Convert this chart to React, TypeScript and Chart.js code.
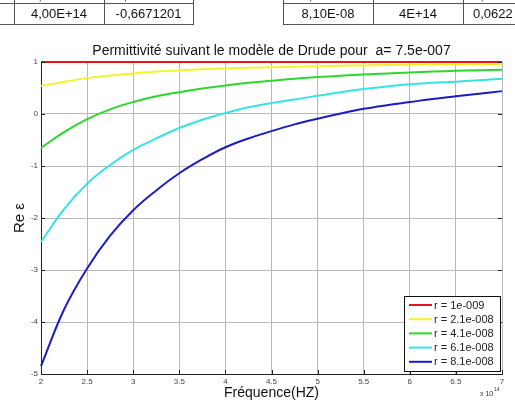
import React, { useEffect, useRef } from "react";
import { Chart, registerables } from "chart.js";

Chart.register(...registerables);

// ---------- data ----------
const frequencies = [2, 2.25, 2.5, 2.75, 3, 3.25, 3.5, 3.75, 4, 4.25, 4.5, 4.75, 5, 5.25, 5.5, 5.75, 6, 6.25, 6.5, 6.75, 7];

const r1e9 = [1, 1, 1, 1, 1, 1, 1, 1, 1, 1, 1, 1, 1, 1, 1, 1, 1, 1, 1, 1, 1];
const r21e9 = [0.54, 0.62, 0.69, 0.74, 0.78, 0.815, 0.84, 0.86, 0.875, 0.89, 0.9, 0.91, 0.92, 0.928, 0.935, 0.94, 0.945, 0.95, 0.953, 0.956, 0.96];
const r41e9 = [-0.65, -0.35, -0.1, 0.09, 0.23, 0.34, 0.42, 0.49, 0.55, 0.6, 0.64, 0.68, 0.71, 0.735, 0.76, 0.78, 0.8, 0.815, 0.83, 0.84, 0.85];
const r61e9 = [-2.46, -1.83, -1.34, -0.98, -0.69, -0.47, -0.27, -0.11, 0.02, 0.13, 0.21, 0.28, 0.35, 0.42, 0.48, 0.53, 0.57, 0.6, 0.62, 0.65, 0.68];
const r81e9 = [-4.85, -3.76, -2.97, -2.34, -1.85, -1.47, -1.14, -0.87, -0.64, -0.47, -0.33, -0.2, -0.09, 0.01, 0.1, 0.17, 0.23, 0.29, 0.34, 0.39, 0.44];

const seriesLabels = ["r = 1e-009", "r = 2.1e-008", "r = 4.1e-008", "r = 6.1e-008", "r = 8.1e-008"];
const seriesColors = ["#e8141c", "#f4f42a", "#2cd82c", "#36e4e4", "#1c1cc4"];
const seriesValues = [r1e9, r21e9, r41e9, r61e9, r81e9];

const xTicks = [2, 2.5, 3, 3.5, 4, 4.5, 5, 5.5, 6, 6.5, 7];
const yTicks = [-5, -4, -3, -2, -1, 0, 1];

const titleText = "Permittivité suivant le modèle de Drude pour  a= 7.5e-007";
const xTitle = "Fréquence(HZ)";
const yTitle = "Re ε";

// table fragment above the chart
const tableLeftTop = ["4,00E+14", "-0,08921749"];
const tableLeftBottom = ["4,00E+14", "-0,6671201"];
const tableRightTop = ["6,10E-08", "4E+14", "0,4559"];
const tableRightBottom = ["8,10E-08", "4E+14", "0,0622"];

const FONT = '"Liberation Sans", Arial, Helvetica, sans-serif';

const overlayPlugin = {
  id: "overlay",
  afterDraw(chart: any) {
    const ctx = chart.ctx;
    const { left, right, top, bottom } = chart.chartArea;
    ctx.save();
    ctx.fillStyle = "#111";
    // title
    ctx.font = `14px ${FONT}`;
    ctx.textAlign = "center";
    ctx.textBaseline = "middle";
    ctx.fillText(titleText, (left + right) / 2, 51);
    // x title
    ctx.font = `14px ${FONT}`;
    ctx.fillText(xTitle, (left + right) / 2, 393);
    // y title
    ctx.save();
    ctx.translate(20, (top + bottom) / 2);
    ctx.rotate(-Math.PI / 2);
    ctx.font = `15px ${FONT}`;
    ctx.fillText(yTitle, 0, 0);
    ctx.restore();
    // exponent
    ctx.fillStyle = "#333";
    ctx.font = `7px ${FONT}`;
    ctx.textAlign = "left";
    ctx.fillText("x 10", 480, 394);
    ctx.font = `5px ${FONT}`;
    ctx.fillText("14", 494, 390);

    // tick marks (inward)
    ctx.strokeStyle = "#222";
    ctx.lineWidth = 1;
    const xs = chart.scales.x;
    const ys = chart.scales.y;
    ctx.beginPath();
    xTicks.forEach((t) => {
      const px = Math.round(xs.getPixelForValue(t)) + 0.5;
      ctx.moveTo(px, bottom);
      ctx.lineTo(px, bottom - 4);
    });
    yTicks.forEach((t) => {
      const py = Math.round(ys.getPixelForValue(t)) + 0.5;
      ctx.moveTo(left, py);
      ctx.lineTo(left + 4, py);
      ctx.moveTo(right, py);
      ctx.lineTo(right - 4, py);
    });
    ctx.stroke();

    // legend
    const bx = right - 98;
    const by = bottom - 78;
    const bw = 96;
    const bh = 75;
    ctx.fillStyle = "#fff";
    ctx.fillRect(bx, by, bw, bh);
    ctx.strokeStyle = "#111";
    ctx.lineWidth = 1;
    ctx.strokeRect(bx + 0.5, by + 0.5, bw, bh);
    ctx.font = `11px ${FONT}`;
    ctx.textAlign = "left";
    ctx.textBaseline = "middle";
    chart.data.datasets.forEach((ds: any, i: number) => {
      const y = by + 9 + i * 14.2;
      ctx.strokeStyle = ds.borderColor;
      ctx.lineWidth = 2;
      ctx.beginPath();
      ctx.moveTo(bx + 5, y);
      ctx.lineTo(bx + 28, y);
      ctx.stroke();
      ctx.fillStyle = "#222";
      ctx.fillText(ds.label, bx + 30, y + 0.5);
    });
    ctx.restore();
  },
};

export default function App() {
  const canvasRef = useRef<HTMLCanvasElement | null>(null);

  useEffect(() => {
    document.body.style.margin = "0";
    const canvas = canvasRef.current;
    if (!canvas) return;
    const chart = new Chart(canvas, {
      type: "line",
      data: {
        datasets: seriesValues.map((vals, i) => ({
          label: seriesLabels[i],
          data: frequencies.map((f, j) => ({ x: f, y: vals[j] })),
          borderColor: seriesColors[i],
          backgroundColor: seriesColors[i],
          borderWidth: 2,
          pointRadius: 0,
          tension: 0.4,
          clip: 3,
        })),
      },
      options: {
        animation: false,
        responsive: false,
        devicePixelRatio: 1,
        layout: { padding: { top: 62, right: 13, left: 0, bottom: 0 } },
        plugins: {
          legend: { display: false },
          title: { display: false },
          tooltip: { enabled: false },
        },
        scales: {
          x: {
            type: "linear",
            min: 2,
            max: 7,
            afterBuildTicks: (s: any) => {
              s.ticks = xTicks.map((v) => ({ value: v }));
            },
            afterFit: (s: any) => {
              s.height = 27;
            },
            grid: { color: "#b8b8b8", lineWidth: 1, drawTicks: false },
            border: { color: "#222", width: 1 },
            ticks: {
              padding: 3,
              color: "#444",
              font: { size: 8, family: FONT },
              maxRotation: 0,
              callback: (v: any) => String(v),
            },
          },
          y: {
            type: "linear",
            min: -5,
            max: 1,
            afterBuildTicks: (s: any) => {
              s.ticks = yTicks.map((v) => ({ value: v }));
            },
            afterFit: (s: any) => {
              s.width = 41;
            },
            grid: { color: "#b8b8b8", lineWidth: 1, drawTicks: false },
            border: { color: "#222", width: 1 },
            ticks: {
              padding: 3,
              color: "#444",
              font: { size: 8, family: FONT },
              callback: (v: any) => String(v),
            },
          },
        },
      },
      plugins: [overlayPlugin],
    });
    return () => chart.destroy();
  }, []);

  const cellStyle = (left: number, width: number, top: number): React.CSSProperties => ({
    position: "absolute",
    left,
    top,
    width,
    height: 20,
    lineHeight: "20px",
    textAlign: "center",
    fontFamily: FONT,
    fontSize: 13,
    color: "#111",
    whiteSpace: "nowrap",
    overflow: "visible",
  });
  const line = (l: number, t: number, w: number, h: number): React.CSSProperties => ({
    position: "absolute",
    left: l,
    top: t,
    width: w,
    height: h,
    background: "#555",
  });

  return (
    <div style={{ position: "absolute", left: 0, top: 0, width: 515, height: 401, overflow: "hidden", background: "#fff" }}>
      <canvas ref={canvasRef} width={515} height={401} style={{ display: "block", position: "absolute", left: 0, top: 0 }} />
      {/* table fragment */}
      <div style={cellStyle(14, 90, -14)}>{tableLeftTop[0]}</div>
      <div style={cellStyle(104, 89, -14)}>{tableLeftTop[1]}</div>
      <div style={cellStyle(14, 90, 4)}>{tableLeftBottom[0]}</div>
      <div style={cellStyle(104, 89, 4)}>{tableLeftBottom[1]}</div>
      <div style={cellStyle(283, 90, -14)}>{tableRightTop[0]}</div>
      <div style={cellStyle(373, 90, -14)}>{tableRightTop[1]}</div>
      <div style={{ ...cellStyle(463, 90, -14), textAlign: "left", paddingLeft: 10 }}>{tableRightTop[2]}</div>
      <div style={cellStyle(283, 90, 4)}>{tableRightBottom[0]}</div>
      <div style={cellStyle(373, 90, 4)}>{tableRightBottom[1]}</div>
      <div style={{ ...cellStyle(463, 90, 4), textAlign: "left", paddingLeft: 10 }}>{tableRightBottom[2]}</div>
      <div style={line(0, 3, 194, 1)} />
      <div style={line(0, 24, 194, 1)} />
      <div style={line(14, 0, 1, 25)} />
      <div style={line(104, 0, 1, 25)} />
      <div style={line(193, 0, 1, 25)} />
      <div style={line(283, 3, 232, 1)} />
      <div style={line(283, 24, 232, 1)} />
      <div style={line(283, 0, 1, 25)} />
      <div style={line(373, 0, 1, 25)} />
      <div style={line(463, 0, 1, 25)} />
    </div>
  );
}
